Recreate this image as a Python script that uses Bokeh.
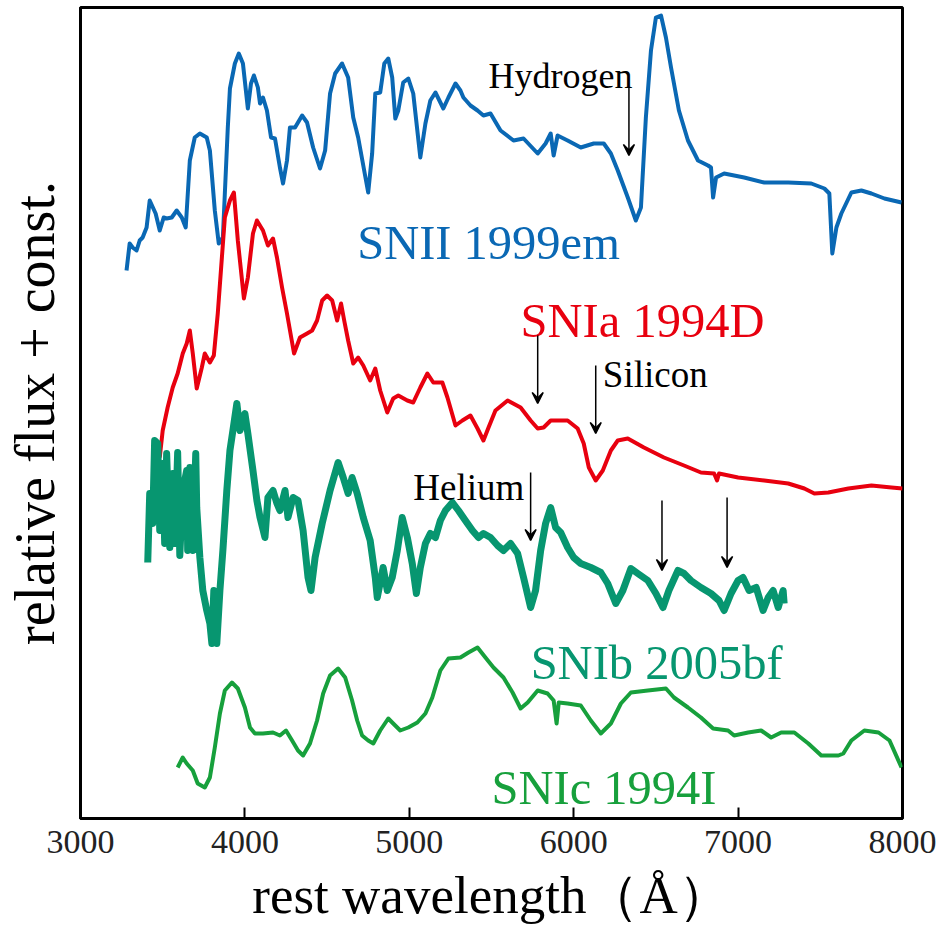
from bokeh.plotting import figure
from bokeh.models import Range1d, FixedTicker, Arrow, VeeHead
from bokeh.core.properties import value
from bokeh.embed import file_html
from bokeh.resources import INLINE

# ---------------- data ----------------
# SNII 1999em
sn2_wl = [3280, 3299, 3317, 3341, 3360, 3378, 3402, 3421, 3457, 3482, 3506, 3524, 3555, 3585, 3616, 3640,
          3665, 3695, 3726, 3768, 3787, 3817, 3841, 3866, 3896, 3909, 3939, 3963, 3988, 4018, 4037, 4055,
          4079, 4092, 4110, 4134, 4159, 4183, 4213, 4232, 4256, 4274, 4305, 4348, 4378, 4415, 4457, 4488,
          4518, 4549, 4591, 4628, 4659, 4689, 4750, 4774, 4793, 4823, 4848, 4872, 4896, 4915, 4933, 4963,
          4994, 5024, 5067, 5098, 5128, 5159, 5189, 5207, 5238, 5281, 5311, 5329, 5372, 5415, 5451, 5494,
          5555, 5634, 5695, 5781, 5829, 5860, 5878, 5902, 5963, 6043, 6122, 6183, 6226, 6268, 6329, 6378,
          6409, 6439, 6470, 6500, 6531, 6561, 6592, 6640, 6695, 6756, 6817, 6835, 6848, 6866, 6915, 7037,
          7159, 7305, 7445, 7525, 7555, 7573, 7598, 7628, 7689, 7750, 7811, 7890, 7994]
sn2_flux = [5.48, 5.75, 5.71, 5.68, 5.78, 5.81, 5.91, 6.18, 6.05, 5.88, 6.01, 6.00, 6.01, 6.08, 6.01, 5.91,
            6.58, 6.81, 6.85, 6.81, 6.68, 6.08, 5.75, 5.81, 6.91, 7.30, 7.55, 7.65, 7.55, 7.10, 7.35, 7.43,
            7.31, 7.15, 7.21, 7.08, 6.81, 6.80, 6.51, 6.35, 6.58, 6.91, 6.91, 7.03, 6.96, 6.71, 6.50, 6.68,
            7.25, 7.45, 7.55, 7.41, 7.01, 6.81, 6.26, 6.65, 7.25, 7.26, 7.55, 7.60, 7.41, 7.00, 7.08, 7.36,
            7.40, 7.25, 6.61, 6.95, 7.18, 7.26, 7.16, 7.10, 7.21, 7.35, 7.28, 7.21, 7.13, 7.08, 7.03, 7.05,
            6.88, 6.78, 6.80, 6.65, 6.75, 6.85, 6.63, 6.83, 6.78, 6.71, 6.75, 6.75, 6.65, 6.48, 6.21, 5.98,
            6.11, 7.01, 7.68, 8.01, 8.03, 7.81, 7.51, 7.08, 6.78, 6.58, 6.53, 6.51, 6.21, 6.41, 6.45, 6.41,
            6.36, 6.36, 6.35, 6.30, 6.25, 5.65, 5.91, 6.05, 6.26, 6.28, 6.25, 6.20, 6.16]

# SNIa 1994D
sn1a_wl = [3482, 3500, 3530, 3561, 3591, 3622, 3646, 3665, 3683, 3707, 3738, 3756, 3787, 3811, 3835, 3860,
           3878, 3909, 3933, 3957, 3994, 4018, 4049, 4073, 4110, 4140, 4171, 4195, 4226, 4256, 4299, 4335,
           4378, 4409, 4439, 4470, 4500, 4531, 4561, 4585, 4604, 4628, 4659, 4689, 4720, 4762, 4793, 4823,
           4866, 4902, 4933, 4988, 5024, 5067, 5110, 5146, 5201, 5232, 5281, 5323, 5372, 5415, 5451, 5482,
           5524, 5598, 5677, 5738, 5781, 5817, 5860, 5963, 6024, 6061, 6092, 6134, 6177, 6226, 6268, 6329,
           6427, 6549, 6671, 6774, 6854, 6872, 6884, 7000, 7159, 7305, 7403, 7464, 7549, 7671, 7811, 7933, 8000]
sn1a_flux = [3.61, 3.88, 4.11, 4.31, 4.45, 4.65, 4.75, 4.88, 4.65, 4.30, 4.51, 4.65, 4.56, 4.63, 5.05, 5.61,
             6.01, 6.18, 6.26, 5.78, 5.20, 5.41, 5.85, 5.98, 5.88, 5.73, 5.80, 5.61, 5.31, 5.05, 4.65, 4.81,
             4.85, 4.88, 4.98, 5.18, 5.23, 5.18, 4.98, 5.15, 4.98, 4.78, 4.55, 4.61, 4.53, 4.38, 4.50, 4.28,
             4.06, 4.20, 4.23, 4.18, 4.16, 4.31, 4.45, 4.36, 4.36, 4.21, 3.93, 3.98, 4.03, 3.90, 3.78, 3.91,
             4.08, 4.18, 4.11, 3.98, 3.90, 3.91, 3.98, 3.98, 3.90, 3.75, 3.51, 3.38, 3.48, 3.68, 3.78, 3.80,
             3.71, 3.61, 3.53, 3.46, 3.45, 3.38, 3.45, 3.41, 3.38, 3.35, 3.30, 3.25, 3.26, 3.30, 3.33, 3.31, 3.30]

# SNIb 2005bf
sn1b_wl = [3409, 3421, 3439, 3451, 3470, 3482, 3500, 3512, 3524, 3543, 3561, 3573, 3591, 3604, 3622, 3646,
           3652, 3665, 3683, 3701, 3707, 3726, 3744, 3768, 3787, 3799, 3811, 3829, 3848, 3866, 3890, 3909,
           3927, 3951, 3970, 4000, 4018, 4049, 4073, 4092, 4122, 4140, 4171, 4195, 4213, 4244, 4262, 4293,
           4323, 4354, 4384, 4402, 4427, 4470, 4518, 4567, 4598, 4628, 4652, 4683, 4720, 4762, 4793, 4805,
           4841, 4866, 4896, 4927, 4957, 4988, 5018, 5043, 5067, 5098, 5128, 5159, 5189, 5220, 5262, 5299,
           5341, 5384, 5421, 5451, 5494, 5537, 5573, 5616, 5659, 5695, 5738, 5768, 5799, 5829, 5860, 5890,
           5921, 5963, 6000, 6043, 6104, 6165, 6207, 6256, 6299, 6348, 6390, 6451, 6500, 6543, 6579, 6634,
           6671, 6713, 6774, 6835, 6884, 6915, 6957, 7000, 7030, 7067, 7110, 7152, 7183, 7213, 7244, 7274, 7280]
sn1b_flux = [2.56, 3.25, 2.95, 3.78, 3.75, 2.88, 3.55, 2.75, 3.65, 2.71, 3.45, 2.75, 3.66, 2.63, 3.28, 3.48,
             2.68, 3.51, 2.68, 3.65, 3.11, 2.61, 2.28, 2.08, 1.95, 1.75, 2.28, 1.75, 2.28, 2.68, 3.28, 3.68,
             3.88, 4.15, 3.88, 4.05, 3.85, 3.48, 3.18, 3.01, 2.81, 3.21, 3.28, 3.15, 3.08, 3.28, 3.01, 3.21,
             3.18, 2.88, 2.41, 2.28, 2.61, 2.95, 3.28, 3.56, 3.41, 3.25, 3.41, 3.25, 3.01, 2.78, 2.41, 2.21,
             2.51, 2.28, 2.41, 2.68, 3.01, 2.81, 2.55, 2.25, 2.51, 2.75, 2.85, 2.81, 2.98, 3.08, 3.16, 3.08,
             2.98, 2.88, 2.81, 2.85, 2.81, 2.73, 2.68, 2.75, 2.65, 2.41, 2.11, 2.28, 2.68, 2.95, 3.11, 2.91,
             2.86, 2.71, 2.61, 2.55, 2.51, 2.46, 2.35, 2.15, 2.28, 2.50, 2.45, 2.38, 2.25, 2.11, 2.28, 2.48,
             2.45, 2.38, 2.31, 2.25, 2.18, 2.08, 2.25, 2.38, 2.41, 2.28, 2.31, 2.08, 2.21, 2.28, 2.11, 2.28, 2.15]

# SNIc 1994I
sn1c_wl = [3591, 3622, 3646, 3683, 3713, 3756, 3787, 3817, 3848, 3878, 3921, 3957, 4000, 4031, 4061, 4110,
           4171, 4213, 4250, 4287, 4323, 4354, 4396, 4439, 4476, 4518, 4567, 4610, 4652, 4683, 4713, 4750,
           4781, 4823, 4872, 4902, 4945, 4994, 5049, 5098, 5140, 5189, 5238, 5311, 5360, 5415, 5463, 5512,
           5573, 5628, 5677, 5720, 5781, 5841, 5878, 5896, 5909, 5963, 6043, 6104, 6165, 6226, 6287, 6348,
           6451, 6561, 6610, 6695, 6774, 6848, 6939, 6976, 7061, 7140, 7201, 7262, 7342, 7427, 7506, 7610,
           7640, 7689, 7768, 7854, 7921, 7994]
sn1c_flux = [0.51, 0.61, 0.55, 0.48, 0.35, 0.31, 0.41, 0.71, 1.05, 1.28, 1.36, 1.30, 1.11, 0.91, 0.85, 0.85,
             0.86, 0.83, 0.88, 0.78, 0.68, 0.63, 0.75, 0.98, 1.25, 1.43, 1.50, 1.41, 1.18, 0.98, 0.83, 0.78,
             0.75, 0.88, 1.00, 0.95, 0.88, 0.91, 0.96, 1.05, 1.21, 1.48, 1.60, 1.61, 1.66, 1.71, 1.61, 1.51,
             1.41, 1.26, 1.10, 1.16, 1.28, 1.25, 1.18, 0.95, 1.16, 1.15, 1.13, 0.98, 0.85, 0.95, 1.15, 1.26,
             1.28, 1.30, 1.21, 1.11, 1.01, 0.90, 0.88, 0.83, 0.86, 0.88, 0.81, 0.86, 0.86, 0.75, 0.63, 0.63,
             0.65, 0.78, 0.88, 0.86, 0.78, 0.51]

x_ticks = [3000, 4000, 5000, 6000, 7000, 8000]

series_names = ["SNII 1999em", "SNIa 1994D", "SNIb 2005bf", "SNIc 1994I"]
line_names = ["Hydrogen", "Silicon", "Helium"]

# ---------------- styling ----------------
SERIF = value("Liberation Serif")
c_blue = "#0a68b4"
c_red = "#e8000f"
c_teal = "#079670"
c_green = "#17a03c"

p = figure(width=940, height=932, output_backend="svg", toolbar_location=None,
           x_range=Range1d(3000, 8000), y_range=Range1d(0, 8.11),
           min_border_left=80, min_border_right=38, min_border_top=7, min_border_bottom=114)

p.xgrid.grid_line_color = None
p.ygrid.grid_line_color = None
p.outline_line_color = "black"
p.outline_line_width = 3
p.outline_line_alpha = 1.0
p.background_fill_color = "white"
p.border_fill_color = "white"

# bottom axis
p.xaxis.ticker = FixedTicker(ticks=x_ticks)
p.xaxis.major_tick_in = 11
p.xaxis.major_tick_out = 0
p.xaxis.major_tick_line_width = 2
p.xaxis.minor_tick_line_color = None
p.xaxis.axis_line_width = 3
p.xaxis.major_label_text_font = "Liberation Serif"
p.xaxis.major_label_text_font_size = "34px"
p.xaxis.major_label_text_color = "#222222"
p.xaxis.major_label_standoff = 12
p.xaxis.axis_label = "rest wavelength（Å）"
p.xaxis.axis_label_text_font = "Liberation Serif"
p.xaxis.axis_label_text_font_size = "53px"
p.xaxis.axis_label_text_font_style = "normal"
p.xaxis.axis_label_text_color = "black"
p.xaxis.axis_label_standoff = 10

# left axis: label only
p.yaxis.ticker = FixedTicker(ticks=[])
p.yaxis.major_tick_line_color = None
p.yaxis.minor_tick_line_color = None
p.yaxis.axis_line_width = 3
p.yaxis.axis_label = "relative flux + const."
p.yaxis.axis_label_text_font = "Liberation Serif"
p.yaxis.axis_label_text_font_size = "56px"
p.yaxis.axis_label_text_font_style = "normal"
p.yaxis.axis_label_text_color = "black"
p.yaxis.axis_label_standoff = 15

# spectra
p.line(sn2_wl, sn2_flux, line_color=c_blue, line_width=4, line_join="round")
p.line(sn1a_wl, sn1a_flux, line_color=c_red, line_width=4, line_join="round")
p.line(sn1b_wl, sn1b_flux, line_color=c_teal, line_width=7, line_join="round")
p.line(sn1c_wl, sn1c_flux, line_color=c_green, line_width=4, line_join="round")

# series labels
label_x = [4683, 5677, 5738, 5500]
label_y = [5.76, 4.98, 1.56, 0.31]
label_c = [c_blue, c_red, c_teal, c_green]
p.text(x=label_x, y=label_y, text=series_names, text_color=label_c,
       text_font=SERIF, text_font_size="48.5px", text_align="left", text_baseline="alphabetic")

# line annotations
p.text(x=[5482], y=[7.43], text=[line_names[0]], text_color="black",
       text_font=SERIF, text_font_size="36px", text_align="left", text_baseline="alphabetic")
p.text(x=[6177, 5024], y=[4.44, 3.31], text=line_names[1:], text_color="black",
       text_font=SERIF, text_font_size="37px", text_align="left", text_baseline="alphabetic")

arrows = [(6336, 7.31, 6.63), (5781, 4.83, 4.15), (6134, 4.53, 3.85),
          (5738, 3.46, 2.78), (6537, 3.18, 2.48), (6933, 3.21, 2.51)]
for ax, y0, y1 in arrows:
    p.add_layout(Arrow(end=VeeHead(size=11, line_color="black", line_width=1.5, fill_color="black"),
                       x_start=ax, y_start=y0, x_end=ax, y_end=y1,
                       line_color="black", line_width=1.5))

open("out.html", "w").write(file_html(p, INLINE))
